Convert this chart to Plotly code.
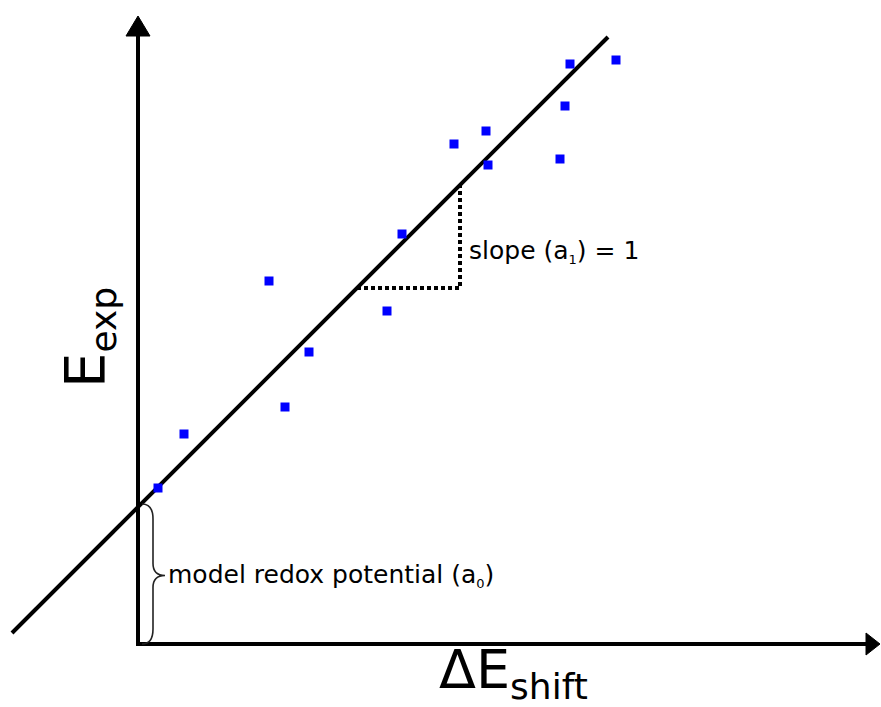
import plotly.graph_objects as go

# Observed points: ΔE_shift (x) against E_exp (y), arbitrary units
dE_shift = [20, 46, 131, 147, 171, 249, 264, 316, 348, 350, 422, 427, 432, 478]
E_exp = [156, 210, 363, 237, 292, 333, 410, 500, 513, 479, 485, 538, 580, 584]

# Linear model E_exp = a0 + a1 * ΔE_shift
a0 = 137
a1 = 1
fit_x = [-126, 470]

# Run of the slope triangle
tri_x = [219, 322]

# Axis extents
x_range = [-138, 743]
y_range = [-63, 644]

fit_y = [a0 + a1 * v for v in fit_x]
tri_y0 = a0 + a1 * tri_x[0]
tri_y1 = a0 + a1 * tri_x[1]

fig = go.Figure()

# regression line
fig.add_trace(go.Scatter(
    x=fit_x, y=fit_y, mode="lines",
    line=dict(color="black", width=4),
    hoverinfo="skip", showlegend=False,
))

# slope triangle (dotted)
fig.add_trace(go.Scatter(
    x=[tri_x[0], tri_x[1], tri_x[1]],
    y=[tri_y0, tri_y0, tri_y1],
    mode="lines",
    line=dict(color="black", width=4, dash="4px,3px"),
    hoverinfo="skip", showlegend=False,
))

# data points
fig.add_trace(go.Scatter(
    x=dE_shift, y=E_exp, mode="markers",
    marker=dict(symbol="square", size=9, color="#0000ff", line=dict(width=0)),
    showlegend=False,
))

x_end = x_range[1] - 1
y_end = y_range[1] - 16
shapes = [
    # vertical axis with arrow head
    dict(type="line", x0=0, y0=0, x1=0, y1=y_end - 18,
         line=dict(color="black", width=4)),
    dict(type="path",
         path=f"M -12,{y_end - 20} L 0,{y_end} L 12,{y_end - 20} Z",
         fillcolor="black", line=dict(color="black", width=1)),
    # horizontal axis with arrow head
    dict(type="line", x0=-2, y0=0, x1=x_end - 12, y1=0,
         line=dict(color="black", width=4)),
    dict(type="path",
         path=f"M {x_end - 14},-11 L {x_end},0 L {x_end - 14},11 Z",
         fillcolor="black", line=dict(color="black", width=1)),
    # curly brace spanning the intercept
    dict(type="path",
         path=(f"M 4,{a0 + 3} Q 15,{a0 + 3} 15,{a0 - 12} L 15,{a0 / 2 + 12} "
               f"Q 15,{a0 / 2} 27,{a0 / 2} Q 15,{a0 / 2} 15,{a0 / 2 - 12} "
               f"L 15,15 Q 15,0 4,0"),
         line=dict(color="#222222", width=1.6)),
]

font = "DejaVu Sans, Verdana, sans-serif"
small_sub = '<sub><span style="font-size:13px">{}</span></sub>'
annotations = [
    dict(x=tri_x[1] + 7, y=tri_y0 + 37, xanchor="left", yanchor="middle",
         text="slope (a" + small_sub.format("1") + ") = 1", showarrow=False,
         font=dict(family=font, size=25, color="black")),
    dict(x=28, y=a0 / 2, xanchor="left", yanchor="middle",
         text="model redox potential (a" + small_sub.format("0") + ")", showarrow=False,
         font=dict(family=font, size=25, color="black")),
    dict(x=375, y=-28, xanchor="center", yanchor="middle",
         text='ΔE<sub><span style="font-size:36px">shift</span></sub>', showarrow=False,
         font=dict(family=font, size=54, color="black")),
    dict(x=-50, y=306, xanchor="center", yanchor="middle", textangle=-90,
         text='E<sub><span style="font-size:36px">exp</span></sub>', showarrow=False,
         font=dict(family=font, size=56, color="black")),
]

fig.update_layout(
    width=881, height=707, autosize=False,
    margin=dict(l=0, r=0, t=0, b=0, pad=0),
    paper_bgcolor="white", plot_bgcolor="white",
    xaxis=dict(range=x_range, visible=False, fixedrange=True),
    yaxis=dict(range=y_range, visible=False, fixedrange=True),
    shapes=shapes, annotations=annotations,
)

fig.write_html("out.html")
